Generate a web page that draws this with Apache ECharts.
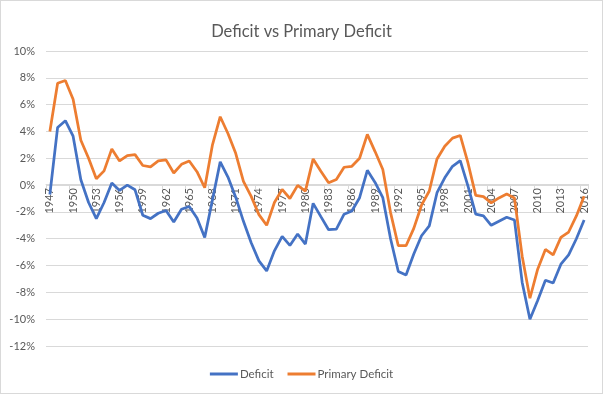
<!DOCTYPE html>
<html><head><meta charset="utf-8">
<script src="https://cdn.jsdelivr.net/npm/echarts@6/dist/echarts.min.js"></script>
<style>html,body{margin:0;padding:0;background:#fff}#c{width:603px;height:394px;box-sizing:border-box;border:1px solid #d9d9d9}</style>
</head><body><div id="c"></div>
<script>
const years = [];
for (let y = 1947; y <= 2016; y++) years.push(String(y));
const deficit = [-0.7,4.3,4.8,3.65,0.4,-1.3,-2.5,-1.3,0.15,-0.4,0.0,-0.35,-2.25,-2.5,-2.1,-1.9,-2.75,-1.8,-1.6,-2.45,-3.9,-1.1,1.73,0.6,-0.9,-2.7,-4.3,-5.65,-6.4,-4.9,-3.83,-4.5,-3.65,-4.4,-1.36,-2.35,-3.33,-3.28,-2.17,-1.93,-0.94,1.1,0.2,-0.94,-4.0,-6.44,-6.7,-5.14,-3.78,-3.04,-0.57,0.54,1.4,1.83,-0.07,-2.17,-2.3,-3.0,-2.7,-2.4,-2.6,-7.26,-10.0,-8.6,-7.1,-7.3,-5.9,-5.2,-4.0,-2.6];
const primary = [4.0,7.6,7.8,6.4,3.35,2.0,0.47,1.06,2.7,1.8,2.2,2.27,1.46,1.36,1.8,1.88,0.9,1.55,1.8,1.0,-0.2,3.0,5.1,3.85,2.37,0.27,-0.84,-2.2,-3.0,-1.3,-0.32,-1.0,-0.02,-0.45,1.95,1.04,0.17,0.42,1.33,1.4,2.0,3.78,2.5,1.16,-2.05,-4.52,-4.52,-3.23,-1.5,-0.44,1.95,2.9,3.5,3.7,1.65,-0.77,-0.86,-1.33,-0.96,-0.67,-0.96,-5.3,-8.44,-6.27,-4.8,-5.2,-3.9,-3.5,-2.3,-0.84];
const yMin = -12, yMax = 10, yStep = 2;
const textColor = '#595959', gridColor = '#d9d9d9';
const font = 'Lato, "Open Sans", sans-serif';
const gridTop = 50, gridBottom = 47, chartH = 394;
// place the category axis on the 0% line (value-axis scale proportion)
const zeroOffset = -Math.round((chartH - gridTop - gridBottom) * (0 - yMin) / (yMax - yMin));
const chart = echarts.init(document.getElementById('c'), null, {renderer: 'canvas'});
chart.setOption({
  animation: false,
  title: {text: 'Deficit vs Primary Deficit', left: 'center', top: 17,
    textStyle: {color: textColor, fontSize: 16.5, fontWeight: 'normal', fontFamily: font}},
  grid: {left: 45, right: 14, top: gridTop, bottom: gridBottom},
  legend: {bottom: 8, left: 'center', itemWidth: 28, itemHeight: 3, itemGap: 14, icon: 'rect',
    textStyle: {color: textColor, fontSize: 11.5, fontFamily: font, padding: [0,0,0,-3]},
    data: ['Deficit', 'Primary Deficit']},
  xAxis: {type: 'category', data: years, boundaryGap: true, position: 'bottom', offset: zeroOffset, z: 0,
    axisLine: {onZero: false, lineStyle: {color: gridColor, width: 1}},
    axisTick: {show: true, interval: 2, length: 5, lineStyle: {color: gridColor}},
    axisLabel: {interval: 2, rotate: 90, margin: 4, color: textColor, fontSize: 11, fontFamily: font}},
  yAxis: {type: 'value', min: yMin, max: yMax, interval: yStep,
    axisLine: {show: false}, axisTick: {show: false},
    splitLine: {lineStyle: {color: gridColor, width: 1}},
    axisLabel: {formatter: '{value}%', color: textColor, fontSize: 11, fontFamily: font, margin: 11}},
  series: [
    {name: 'Deficit', type: 'line', data: deficit, showSymbol: false, symbol: 'none', z: 3,
      lineStyle: {color: '#4472C4', width: 2.75}, itemStyle: {color: '#4472C4'}},
    {name: 'Primary Deficit', type: 'line', data: primary, showSymbol: false, symbol: 'none', z: 4,
      lineStyle: {color: '#ED7D31', width: 2.75}, itemStyle: {color: '#ED7D31'}}
  ]
});
</script></body></html>
